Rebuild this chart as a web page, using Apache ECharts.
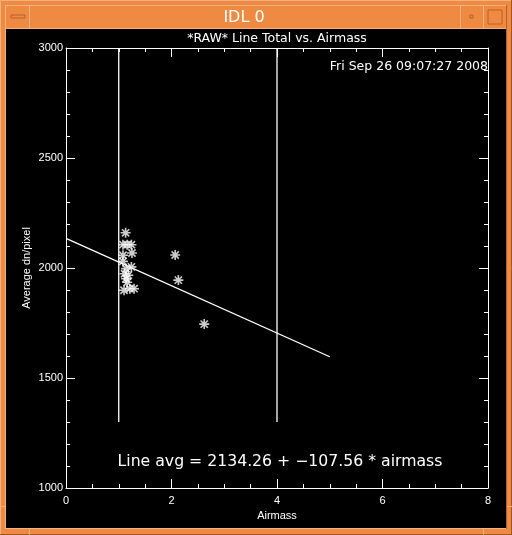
<!DOCTYPE html>
<html><head><meta charset="utf-8">
<script src="https://cdn.jsdelivr.net/npm/echarts@6/dist/echarts.min.js"></script>
<style>html,body{margin:0;padding:0;background:#ee8a42;}#c{width:512px;height:535px;}</style>
</head><body><div id="c"></div>
<script>
// Observed points (airmass, average dn/pixel)
var airmass = [1.13, 1.08, 1.16, 1.24, 1.25, 1.08, 1.08, 1.24, 1.14, 1.11, 1.18, 1.14, 1.16, 1.10, 1.21, 1.29, 2.07, 2.13, 2.62];
var avgDn   = [2160, 2106, 2106, 2106, 2068, 2058, 2030, 2005, 1997, 1974, 1967, 1951, 1935, 1899, 1906, 1906, 2059, 1945, 1745];
// Fit line endpoints
var fitX = [0, 5];
var fitY = [2134.26, 1596.46];
// Vertical marker lines
var vlineX = [1, 4];
var vlineY = [1300, 3000];
var xTicks = [0, 2, 4, 6, 8];
var yTicks = [1000, 1500, 2000, 2500, 3000];

var chart = echarts.init(document.getElementById('c'));
var font = 'DejaVu Sans';
var lfont = 'Liberation Sans';
var pts = airmass.map(function(x, i){ return [x, avgDn[i]]; });
var star = 'path://M0,-5 L0,5 M-5,0 L5,0 M-3.6,-3.6 L3.6,3.6 M-3.6,3.6 L3.6,-3.6';

function axisBase(pos, isX, showLabel){
  return {
    type: 'value', position: pos,
    min: isX ? 0 : 1000, max: isX ? 8 : 3000, interval: isX ? 2 : 500,
    axisLine: {show: true, onZero: false, lineStyle: {color: '#fff', width: 1}},
    axisTick: {show: true, inside: true, length: 9, lineStyle: {color: '#fff', width: 1}},
    minorTick: {show: true, splitNumber: isX ? 4 : 5, length: 4, lineStyle: {color: '#fff', width: 1}},
    splitLine: {show: false},
    axisLabel: {show: showLabel, color: '#fff', fontFamily: lfont, fontSize: 11, margin: isX ? 7 : 3,
      formatter: function(v){ return String(v); }}
  };
}
var xA = axisBase('bottom', true, true);
xA.name = 'Airmass'; xA.nameLocation = 'middle'; xA.nameGap = 20;
xA.nameTextStyle = {color: '#fff', fontFamily: lfont, fontSize: 11};
var xB = axisBase('top', true, false);
var yA = axisBase('left', false, true);
var yB = axisBase('right', false, false);

var lineStyle = {color: '#fff', width: 1.3};
var vlines = vlineX.map(function(x){
  return {type: 'line', xAxisIndex: 0, yAxisIndex: 0, symbol: 'none', silent: true,
    lineStyle: lineStyle, data: vlineY.map(function(y){ return [x, y]; })};
});

chart.setOption({
  backgroundColor: '#ee8a42',
  animation: false,
  grid: {left: 66, top: 48, right: 24, bottom: 47},
  xAxis: [xA, xB],
  yAxis: [yA, yB],
  graphic: [
    {type: 'rect', shape: {x: 0.5, y: 0.5, width: 511, height: 534}, style: {fill: 'none', stroke: '#f6b27e', lineWidth: 1}},
    {type: 'rect', shape: {x: 6, y: 29, width: 500, height: 499}, style: {fill: '#000'}, z: -10},
    {type: 'line', shape: {x1: 6, y1: 5.5, x2: 506, y2: 5.5}, style: {stroke: '#f6b27e'}},
    {type: 'line', shape: {x1: 29.5, y1: 5, x2: 29.5, y2: 29}, style: {stroke: '#f6b27e'}},
    {type: 'line', shape: {x1: 460.5, y1: 5, x2: 460.5, y2: 29}, style: {stroke: '#f6b27e'}},
    {type: 'line', shape: {x1: 483.5, y1: 5, x2: 483.5, y2: 29}, style: {stroke: '#f6b27e'}},
    {type: 'line', shape: {x1: 6, y1: 28.5, x2: 506, y2: 28.5}, style: {stroke: '#f6b27e'}},
    {type: 'line', shape: {x1: 5.5, y1: 5, x2: 5.5, y2: 529}, style: {stroke: '#f6b27e'}},
    {type: 'line', shape: {x1: 506.5, y1: 5, x2: 506.5, y2: 529}, style: {stroke: '#b8602a'}},
    {type: 'line', shape: {x1: 6, y1: 528.5, x2: 506, y2: 528.5}, style: {stroke: '#f6b27e'}},
    {type: 'line', shape: {x1: 0, y1: 534.5, x2: 512, y2: 534.5}, style: {stroke: '#a0561f'}},
    {type: 'line', shape: {x1: 511.5, y1: 0, x2: 511.5, y2: 535}, style: {stroke: '#a0561f'}},
    {type: 'line', shape: {x1: 29.5, y1: 529, x2: 29.5, y2: 535}, style: {stroke: '#f6b27e'}},
    {type: 'line', shape: {x1: 483.5, y1: 529, x2: 483.5, y2: 535}, style: {stroke: '#f6b27e'}},
    {type: 'line', shape: {x1: 0, y1: 506.5, x2: 5, y2: 506.5}, style: {stroke: '#f6b27e'}},
    {type: 'line', shape: {x1: 507, y1: 506.5, x2: 512, y2: 506.5}, style: {stroke: '#f6b27e'}},
    {type: 'rect', shape: {x: 11, y: 15, width: 14, height: 3}, style: {fill: 'none', stroke: '#b8602a', lineWidth: 1}},
    {type: 'rect', shape: {x: 470, y: 15, width: 3, height: 3}, style: {fill: 'none', stroke: '#b8602a', lineWidth: 1}},
    {type: 'rect', shape: {x: 488, y: 10, width: 14, height: 14}, style: {fill: 'none', stroke: '#b8602a', lineWidth: 1}},
    {type: 'text', x: 244, y: 18, style: {text: 'IDL 0', fill: '#fff', font: '16px ' + font, textAlign: 'center', textVerticalAlign: 'middle'}},
    {type: 'text', x: 277, y: 39, style: {text: '*RAW* Line Total vs. Airmass', fill: '#fff', font: '12.5px ' + font, textAlign: 'center', textVerticalAlign: 'middle'}},
    {type: 'text', x: 488, y: 67, style: {text: 'Fri Sep 26 09:07:27 2008', fill: '#fff', font: '12.5px ' + font, textAlign: 'right', textVerticalAlign: 'middle'}},
    {type: 'text', x: 280, y: 462, style: {text: 'Line avg = 2134.26 + \u2212107.56 * airmass', fill: '#fff', font: '15.7px ' + font, textAlign: 'center', textVerticalAlign: 'middle'}},
    {type: 'text', x: 27, y: 268, rotation: Math.PI / 2, style: {text: 'Average dn/pixel', fill: '#fff', font: '11px ' + lfont, textAlign: 'center', textVerticalAlign: 'middle'}}
  ],
  series: vlines.concat([
    {type: 'line', xAxisIndex: 0, yAxisIndex: 0, symbol: 'none', silent: true, lineStyle: lineStyle,
      data: fitX.map(function(x, i){ return [x, fitY[i]]; })},
    {type: 'scatter', xAxisIndex: 0, yAxisIndex: 0, symbol: star, symbolSize: 10,
      itemStyle: {color: 'rgba(0,0,0,0)', borderColor: '#fff', borderWidth: 1.6}, data: pts}
  ])
});
</script></body></html>
